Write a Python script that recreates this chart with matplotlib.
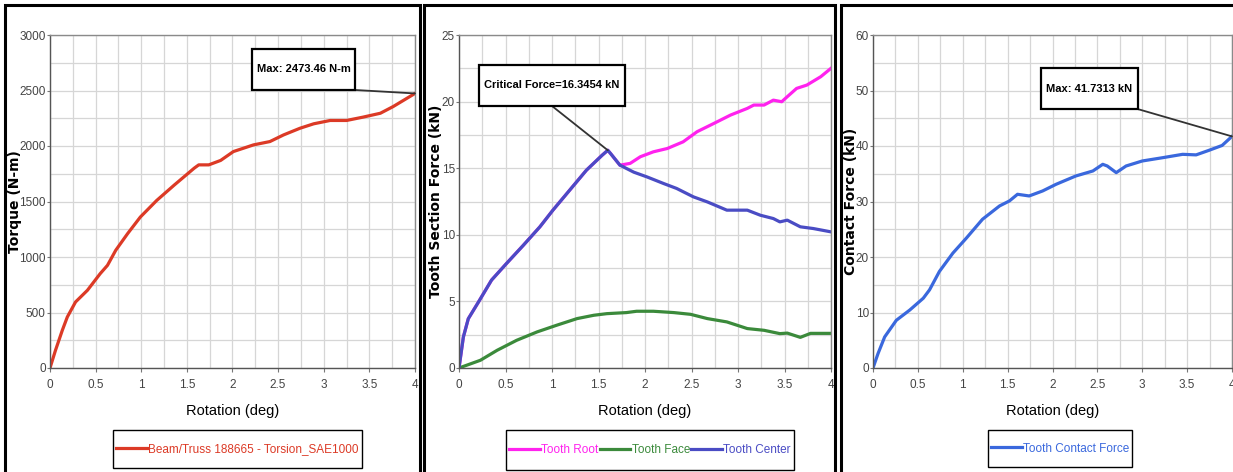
import matplotlib
matplotlib.use("Agg")
import matplotlib.pyplot as plt
from matplotlib.patches import Rectangle
from matplotlib.ticker import MultipleLocator

# ---- data ----
torque_x = [0, 0.06, 0.135, 0.19, 0.28, 0.41, 0.55, 0.63, 0.72, 0.85, 0.99, 1.17, 1.36,
            1.58, 1.63, 1.74, 1.87, 2.01, 2.23, 2.41, 2.56, 2.74, 2.89, 3.07, 3.25,
            3.43, 3.62, 3.76, 4.0]
torque_y = [0, 159, 340, 460, 595, 700, 850, 925, 1060, 1210, 1360, 1510, 1647,
            1800, 1830, 1830, 1870, 1950, 2010, 2040, 2100, 2160, 2200, 2230, 2230,
            2260, 2295, 2355, 2473.46]

center_x = [0, 0.047, 0.10, 0.21, 0.35, 0.51, 0.69, 0.87, 1.01, 1.19, 1.37, 1.54, 1.6,
            1.63, 1.73, 1.88, 2.02, 2.20, 2.34, 2.52, 2.67, 2.88, 3.10, 3.24, 3.38,
            3.45, 3.53, 3.67, 3.81, 4.0]
center_y = [0, 2.33, 3.7, 4.96, 6.6, 7.84, 9.2, 10.6, 11.85, 13.35, 14.85, 15.98, 16.3454,
            16.1, 15.23, 14.7, 14.35, 13.85, 13.48, 12.85, 12.47, 11.85, 11.85, 11.47, 11.22,
            10.97, 11.1, 10.6, 10.47, 10.22]

root_x = center_x[:15] + [1.84, 1.95, 2.09, 2.24, 2.41, 2.56, 2.74, 2.92, 3.10, 3.17,
                          3.28, 3.38, 3.47, 3.53, 3.63, 3.74, 3.89, 4.0]
root_y = center_y[:15] + [15.36, 15.86, 16.23, 16.48, 16.98, 17.74, 18.36, 18.99, 19.49,
                          19.74, 19.74, 20.11, 19.99, 20.37, 20.99, 21.24, 21.87, 22.5]

face_x = [0, 0.23, 0.41, 0.62, 0.84, 1.05, 1.27, 1.45, 1.59, 1.80, 1.91, 2.09, 2.31,
          2.49, 2.67, 2.88, 3.10, 3.28, 3.45, 3.53, 3.67, 3.78, 4.0]
face_y = [0, 0.58, 1.33, 2.08, 2.71, 3.21, 3.71, 3.96, 4.08, 4.16, 4.26, 4.26, 4.16,
          4.03, 3.71, 3.46, 2.96, 2.83, 2.58, 2.62, 2.3, 2.6, 2.6]

contact_x = [0, 0.056, 0.13, 0.26, 0.41, 0.56, 0.63, 0.74, 0.89, 1.04, 1.22, 1.41, 1.52,
             1.61, 1.74, 1.89, 2.04, 2.26, 2.45, 2.56, 2.61, 2.71, 2.82, 3.00, 3.23,
             3.45, 3.60, 3.74, 3.89, 4.0]
contact_y = [0, 2.6, 5.6, 8.6, 10.45, 12.57, 14.08, 17.4, 20.7, 23.4, 26.8, 29.2, 30.1,
             31.3, 31.0, 31.9, 33.1, 34.6, 35.5, 36.7, 36.4, 35.2, 36.4, 37.3, 37.9,
             38.5, 38.4, 39.2, 40.1, 41.7313]

W, H = 1233, 472
narrow = ["Liberation Sans", "DejaVu Sans"]

fig = plt.figure(figsize=(W / 100, H / 100), dpi=100)
fig.patch.set_facecolor("white")
tf = fig.transFigure
boxed = []   # (artist, y0, y1, xpad, lw, corner-or-None, ax, xy)


def px(x0, y0, x1, y1):
    # pixel box (top-left origin) -> figure fraction rect
    return [x0 / W, 1 - y1 / H, (x1 - x0) / W, (y1 - y0) / H]


def fpt(x, y):
    return (x / W, 1 - y / H)


def style_axes(ax, ymax, ystep, yminor, ylabel, lab_x):
    ax.set_xlim(0, 4)
    ax.set_ylim(0, ymax)
    ax.xaxis.set_major_locator(MultipleLocator(0.5))
    ax.xaxis.set_minor_locator(MultipleLocator(0.25))
    ax.yaxis.set_major_locator(MultipleLocator(ystep))
    ax.yaxis.set_minor_locator(MultipleLocator(yminor))
    ax.grid(which="both", color="#d6d6d6", lw=0.9)
    ax.set_axisbelow(True)
    for s in ax.spines.values():
        s.set_color("#8a8a8a")
        s.set_linewidth(1.0)
    ax.spines["left"].set_color("#555555")
    ax.spines["bottom"].set_color("#555555")
    ax.tick_params(which="major", color="#777777", labelsize=8.5, labelcolor="#444444")
    ax.tick_params(axis="x", which="major", length=3, pad=5)
    ax.tick_params(axis="y", which="major", length=2, pad=1)
    ax.tick_params(which="minor", length=0)
    ax.set_xticklabels([f"{v:g}" for v in ax.get_xticks()], family=narrow)
    ax.set_yticklabels([f"{v:g}" for v in ax.get_yticks()], family=narrow)
    ax.set_xlabel("Rotation (deg)", family=narrow, fontsize=10.5, labelpad=9)
    ax.set_ylabel(ylabel, fontsize=10, fontweight="bold", family="DejaVu Sans")
    ax.yaxis.set_label_coords(lab_x, 0.5)


def box_note(ax, text, xy, box, corner_side):
    # text box centred where the reference has it; leader line to the point
    x0, y0, x1, y1 = box
    t = fig.text(*fpt((x0 + x1) / 2, (y0 + y1) / 2), text, ha="center", va="center",
                 family=narrow, fontsize=8, fontweight="bold", color="black", zorder=6)
    boxed.append((t, y0, y1, 5, 1.6, corner_side, ax, xy))


def legend(ax, box):
    x0, y0, x1, y1 = box
    lg = ax.legend(loc="center", bbox_to_anchor=fpt((x0 + x1) / 2, (y0 + y1) / 2),
                   bbox_transform=tf, ncol=3, frameon=False, handlelength=2.6,
                   handletextpad=0.1, columnspacing=0.1, borderpad=0.1,
                   labelcolor="linecolor", prop={"family": narrow, "size": 8.5})
    boxed.append((lg, y0, y1, 2, 1.0, None, ax, None))


# ---- panel 1 ----
ax1 = fig.add_axes(px(50, 35, 415, 368))
ax1.plot(torque_x, torque_y, color="#dc3a26", lw=2.3,
         label="Beam/Truss 188665 - Torsion_SAE1000")
style_axes(ax1, 3000, 500, 250, "Torque (N-m)", -0.077)
box_note(ax1, "Max: 2473.46 N-m", (torque_x[-1], torque_y[-1]), (257, 49, 350, 90), 1.0)
legend(ax1, (122, 430, 353, 468))

# ---- panel 2 ----
ax2 = fig.add_axes(px(459, 35, 831, 368))
ax2.plot(root_x, root_y, color="#ff22ee", lw=2.3, label="Tooth Root")
ax2.plot(face_x, face_y, color="#3b8a3b", lw=2.3, label="Tooth Face")
ax2.plot(center_x, center_y, color="#4a4cc4", lw=2.3, label="Tooth Center")
style_axes(ax2, 25, 5, 2.5, "Tooth Section Force (kN)", -0.043)
box_note(ax2, "Critical Force=16.3454 kN", (1.6, 16.3454), (487, 65, 617, 106), 0.5)
legend(ax2, (508, 430, 792, 470))

# ---- panel 3 ----
ax3 = fig.add_axes(px(873, 35, 1232, 368))
ax3.plot(contact_x, contact_y, color="#3a68dd", lw=2.3, label="Tooth Contact Force")
style_axes(ax3, 60, 10, 5, "Contact Force (kN)", -0.042)
box_note(ax3, "Max: 41.7313 kN", (contact_x[-1], contact_y[-1]), (1048, 68, 1131, 109), 1.0)
legend(ax3, (997, 430, 1123, 467))

# frames sized to the rendered text widths, reference heights
fig.canvas.draw()
r = fig.canvas.get_renderer()
for art, y0, y1, xpad, lw, side, ax, xy in boxed:
    bb = art.get_window_extent(r)
    bx0, bx1 = bb.x0 - xpad, bb.x1 + xpad
    fig.patches.append(Rectangle(fpt(bx0, y1), (bx1 - bx0) / W, (y1 - y0) / H,
                                 transform=tf, fc="white" if side is not None else "none",
                                 ec="black", lw=lw, zorder=5))
    if side is not None:
        cx = bx0 + side * (bx1 - bx0)
        ax.annotate("", xy=xy, xytext=fpt(cx, y1), textcoords="figure fraction",
                    arrowprops=dict(arrowstyle="-", color="#333333", lw=1.3,
                                    shrinkA=0, shrinkB=0),
                    annotation_clip=False, zorder=4)

# ---- panel frames (screenshot borders) ----
for x0, x1 in [(5, 420), (424, 835), (841, 1240)]:
    fig.patches.append(Rectangle((x0 / W, -0.05), (x1 - x0) / W, 1.05 - 5 / H,
                                 transform=tf, fill=False, ec="black", lw=2.2, zorder=10))

fig.savefig("out.png", dpi=100, facecolor="white")
